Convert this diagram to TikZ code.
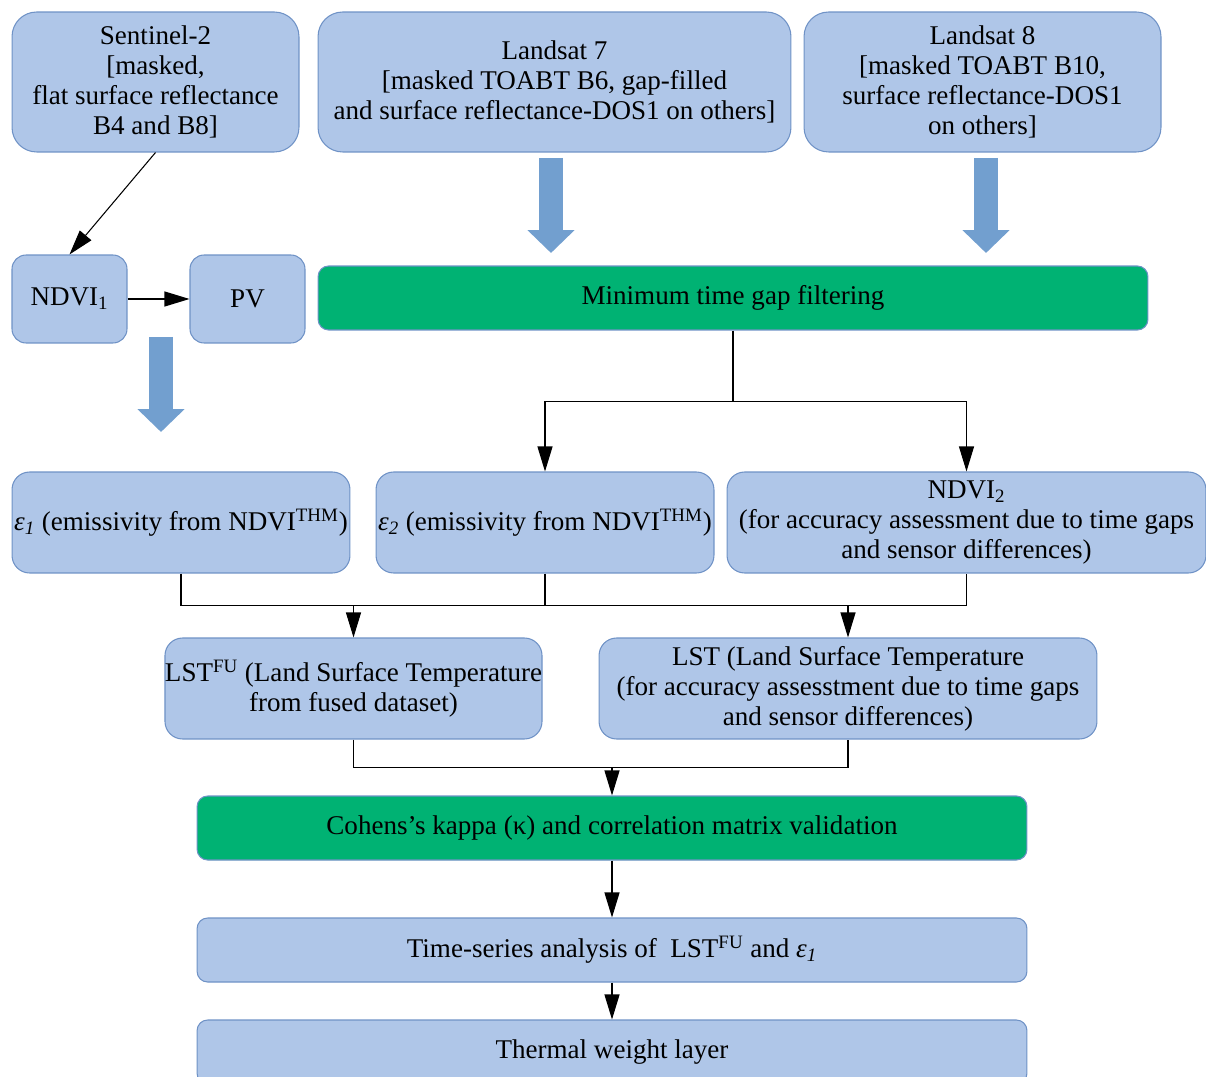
\documentclass[tikz,border=0pt]{standalone}
\usepackage{fontspec}
\setmainfont{Liberation Serif}
\usepackage{xcolor}
\usetikzlibrary{positioning,calc}
\usetikzlibrary{arrows.meta}
\definecolor{lightBlue}{HTML}{AFC6E8}
\definecolor{edgeBlue}{HTML}{6F92C6}
\definecolor{strongGreen}{HTML}{00B273}
\definecolor{arrowBlue}{HTML}{729FCF}
\tikzstyle{nodeLBlue}=[rectangle, rounded corners=10pt, fill=lightBlue, draw=edgeBlue, line width=0.6pt, align=center, inner sep=0pt, font=\fontsize{15.4}{17}\selectfont]
\tikzstyle{nodeGreen}=[nodeLBlue, fill=strongGreen, rounded corners=6pt]
\tikzstyle{fatArrow}=[color=arrowBlue, line width=0.48cm, -{Triangle[length=0.46cm,width=0.92cm]}]
\tikzstyle{link}=[line width=0.6pt, black]

\begin{document}
\begin{tikzpicture}[>={Triangle[length=5mm,width=3mm]}, x=0.02cm, y=-0.02cm]
      \clip (0,0) rectangle (1206,1077);
      % sources
      \node[nodeLBlue, rounded corners=14pt, minimum width=5.74cm, minimum height=2.8cm] (S2) at (155.5,82) {Sentinel-2\\{}[masked,\\flat surface reflectance\\B4 and B8]};
      \node[nodeLBlue, rounded corners=14pt, minimum width=9.46cm, minimum height=2.8cm] (L7) at (554.5,82) {Landsat 7\\{}[masked TOABT B6, gap-filled\\and surface reflectance-DOS1 on others]};
      \node[nodeLBlue, rounded corners=14pt, minimum width=7.14cm, minimum height=2.8cm] (L8) at (982.5,82) {Landsat 8\\{}[masked TOABT B10,\\surface reflectance-DOS1\\on others]};
      \node[nodeLBlue, rounded corners=8pt, minimum width=2.3cm, minimum height=1.76cm] (N1) at (69.5,299) {NDVI\textsubscript{1}};
      \node[nodeLBlue, rounded corners=8pt, minimum width=2.3cm, minimum height=1.76cm] (PV) at (247.5,299) {PV};
      \node[nodeGreen, minimum width=16.6cm, minimum height=1.28cm] (MTG) at (733,298) {Minimum time gap filtering};
      % emissivity and NDVI
      \node[nodeLBlue, minimum width=6.76cm, minimum height=2.02cm] (E1) at (181,522.5) {\textit{ε}\textsubscript{\textit{1}} (emissivity from NDVI\textsuperscript{THM})};
      \node[nodeLBlue, minimum width=6.76cm, minimum height=2.02cm] (E2) at (545,522.5) {\textit{ε}\textsubscript{\textit{2}} (emissivity from NDVI\textsuperscript{THM})};
      \node[nodeLBlue, minimum width=9.58cm, minimum height=2.02cm] (N2) at (966.5,522.5) {NDVI\textsubscript{2}\\(for accuracy assessment due to time gaps\\and sensor differences)};
      % LST
      \node[nodeLBlue, minimum width=7.54cm, minimum height=2.02cm] (LFU) at (353.5,688.5) {LST\textsuperscript{FU} (Land Surface Temperature\\from fused dataset)};
      \node[nodeLBlue, minimum width=9.96cm, minimum height=2.02cm] (LST) at (848,688.5) {LST (Land Surface Temperature\\(for accuracy assesstment due to time gaps\\and sensor differences)};
      % validation and output
      \node[nodeGreen, minimum width=16.6cm, minimum height=1.28cm] (CK) at (612,828) {Cohens’s kappa (κ) and correlation matrix validation};
      \node[nodeLBlue, rounded corners=6pt, minimum width=16.6cm, minimum height=1.28cm] (TS) at (612,950) {Time-series analysis of~ LST\textsuperscript{FU} and \textit{ε}\textsubscript{\textit{1}}};
      \node[nodeLBlue, rounded corners=6pt, minimum width=16.6cm, minimum height=1.28cm] (TW) at (612,1052) {Thermal weight layer};

      % block arrows
      \coordinate (l7tail) at (551,158);
      \coordinate (l7tip) at (551,253);
      \coordinate (l8tail) at (986,158);
      \coordinate (l8tip) at (986,253);
      \coordinate (pvtail) at (161,337);
      \coordinate (pvtip) at (161,432);
      \draw[fatArrow] (l7tail) -- (l7tip);
      \draw[fatArrow] (l8tail) -- (l8tip);
      \draw[fatArrow] (pvtail) -- (pvtip);

      % thin connectors
      \draw[link,->] (S2.south) -- (N1.north);
      \draw[link,->] (N1) edge[] node {} (PV);
      \coordinate (mtgJ) at ($(MTG.south)+(0,71)$);
      \draw[link] (MTG.south) -- (mtgJ);
      \draw[link,->] (mtgJ) -| (E2.north);
      \draw[link,->] (mtgJ) -| (N2.north);
      \coordinate (epsJ) at ($(E1.south)+(0,32)$);
      \draw[link] (E1.south) -- (epsJ) -- (epsJ -| N2.south) -- (N2.south);
      \draw[link] (E2.south) -- (E2.south |- epsJ);
      \draw[link,->] (epsJ -| LFU.north) -- (LFU.north);
      \draw[link,->] (epsJ -| LST.north) -- (LST.north);
      \coordinate (lstJ) at ($(LFU.south)+(0,28)$);
      \draw[link] (LFU.south) -- (lstJ) -- (lstJ -| LST.south) -- (LST.south);
      \draw[link,->] (lstJ -| CK.north) -- (CK.north);
      \draw[link,->] (CK) edge[] node {} (TS);
      \draw[link,->] (TS) edge[] node {} (TW);
    \end{tikzpicture}
\end{document}
